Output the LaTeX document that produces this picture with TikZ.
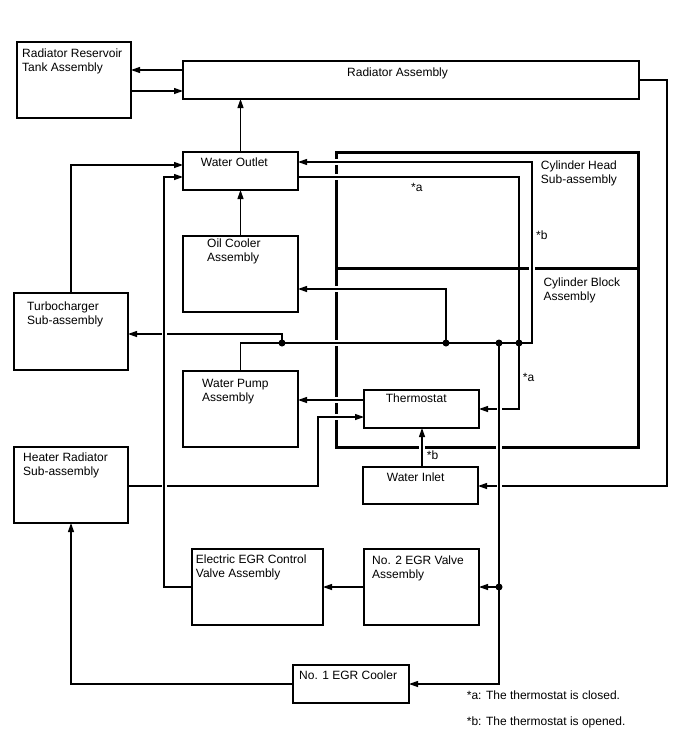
\documentclass[tikz,border=0pt]{standalone}
\usepackage{fontspec}
\setmainfont{Liberation Sans}
\usetikzlibrary{arrows.meta}
\newcommand{\mylines}[1]{\begin{tabular}[t]{@{}l@{}}#1\end{tabular}}
\begin{document}
\begin{tikzpicture}[x=1pt,y=-1pt,
  box/.style={draw, line width=1.3pt, rectangle, inner sep=0pt, outer sep=0pt, anchor=north west},
  region/.style={draw, line width=3pt, rectangle, inner sep=0pt, outer sep=0pt, anchor=north west},
  lbl/.style={anchor=base west, inner sep=0pt, font=\fontsize{12}{14}\selectfont},
  ln/.style={line width=1.2pt},
  arr/.style={ln, -{Triangle[length=9pt,width=6pt]}},
  dot/.style={circle, fill, inner sep=0pt, minimum size=7pt},
  gap/.style={fill=white}]
\useasboundingbox[fill=white] (0,0) rectangle (688,755);

% cylinder regions (thick)
\node[region, minimum width=302pt, minimum height=116pt] (chead) at (336,152) {};
\node[region, minimum width=302pt, minimum height=179pt] (cblock) at (336,268) {};
% gaps in thick lines where pipes cross
\foreach \yy in {162,177,289,343,400,417}
  \fill[gap] (333,\yy-3) rectangle (339,\yy+3);
\fill[gap] (529,265) rectangle (535,271);
\fill[gap] (419,444) rectangle (425,450);
\fill[gap] (496,444) rectangle (502,450);

% boxes
\node[box, minimum width=114pt, minimum height=76pt] (res) at (17,42) {};
\node[box, minimum width=456pt, minimum height=38pt] (rad) at (183,61) {};
\node[box, minimum width=115pt, minimum height=38pt] (wo) at (183,152) {};
\node[box, minimum width=115pt, minimum height=76pt] (oc) at (183,236) {};
\node[box, minimum width=114pt, minimum height=77pt] (turbo) at (14,293) {};
\node[box, minimum width=115pt, minimum height=76pt] (wp) at (183,371) {};
\node[box, minimum width=115pt, minimum height=38pt] (therm) at (364,390) {};
\node[box, minimum width=115pt, minimum height=37pt] (wi) at (363,467) {};
\node[box, minimum width=114pt, minimum height=76pt] (heater) at (14,447) {};
\node[box, minimum width=131pt, minimum height=76pt] (egrv) at (192,549) {};
\node[box, minimum width=115pt, minimum height=76pt] (no2) at (364,549) {};
\node[box, minimum width=116pt, minimum height=38pt] (no1) at (293,665) {};

% junctions
\coordinate (j1) at (282,343);
\coordinate (j2) at (446,343);
\coordinate (j3) at (499,343);
\coordinate (j4) at (519,343);
\coordinate (j5) at (499,587);
\coordinate (jc) at (532,343);
\coordinate (hx) at (318,417);
\coordinate (rx) at (667,486);
\coordinate (ex) at (164,177);

% lines that are broken where others cross them
\draw[arr] (j1) |- (turbo.east |- 0,334);
\draw[arr] (heater.east |- 0,486) -| (hx) -- (therm.west |- hx);
\draw[arr] (j4) |- (therm.east |- 0,409);
\draw[arr] (rad.east |- 0,80) -| (rx) -- (wi.east |- rx);
\fill[gap] (161.5,331.5) rectangle (166.5,336.5);
\fill[gap] (161.5,483.5) rectangle (166.5,488.5);
\fill[gap] (496.5,406.5) rectangle (501.5,411.5);
\fill[gap] (496.5,483.5) rectangle (501.5,488.5);

% other connectors
\draw[arr] (rad.west |- 0,70) -- (res.east |- 0,70);
\draw[arr] (res.east |- 0,91) -- (rad.west |- 0,91);
\draw[arr] (wo.north) -- (wo.north |- rad.south);
\draw[arr] (oc.north) -- (wo.south);
\draw[arr] (turbo.north) |- (wo.west |- 0,165);
\draw[arr] (egrv.west) -| (ex) -- (wo.west |- ex);
\draw[arr] (j3) |- (no1.east);
\draw[arr] (j5) -- (no2.east);
\draw[arr] (wp.north) |- (j1) -- (jc) |- (wo.east |- 0,162);
\draw[arr] (j2) |- (oc.east |- 0,289);
\draw[ln] (wo.east |- 0,177) -| (j4);
\draw[arr] (therm.west |- 0,400) -- (wp.east |- 0,400);
\draw[arr] (wi.north -| 422,0) -- (therm.south -| 422,0);
\draw[arr] (no2.west) -- (egrv.east);
\draw[arr] (no1.west) -| (heater.south);

% dots
\node[dot] (d1) at (j1) {};
\node[dot] (d2) at (j2) {};
\node[dot] (d3) at (j3) {};
\node[dot] (d4) at (j4) {};
\node[dot] (d5) at (j5) {};

% labels
\node[lbl] (tres) at (22,57.7) {\mylines{Radiator Reservoir\\Tank Assembly}};
\node[lbl] (trad) at (347,76) {Radiator Assembly};
\node[lbl] (two) at (200.7,166) {Water Outlet};
\node[lbl] (toc) at (207,247.6) {\mylines{Oil Cooler\\Assembly}};
\node[lbl] (tturbo) at (27,310.3) {\mylines{Turbocharger\\Sub-assembly}};
\node[lbl] (twp) at (202,387.6) {\mylines{Water Pump\\Assembly}};
\node[lbl] (ttherm) at (385.7,402.6) {Thermostat};
\node[lbl] (twi) at (386.7,481) {Water Inlet};
\node[lbl] (theater) at (23,461) {\mylines{Heater Radiator\\Sub-assembly}};
\node[lbl] (tegrv) at (195.7,563.6) {\mylines{Electric EGR Control\\Valve Assembly}};
\node[lbl] (tno2) at (372,564.3) {\mylines{No. 2 EGR Valve\\Assembly}};
\node[lbl] (tno1) at (299,679.6) {No. 1 EGR Cooler};
\node[lbl] (tch) at (540.7,169.3) {\mylines{Cylinder Head\\Sub-assembly}};
\node[lbl] (tcb) at (543.3,286.3) {\mylines{Cylinder Block\\Assembly}};
\node[lbl] (sa1) at (411,191.5) {*a};
\node[lbl] (sb1) at (536,239.3) {*b};
\node[lbl] (sa2) at (522.7,381.7) {*a};
\node[lbl] (sb2) at (426.7,459.3) {*b};
\node[lbl] (fa) at (466.7,699.6) {*a: The thermostat is closed.};
\node[lbl] (fb) at (466.7,725.4) {*b: The thermostat is opened.};
\end{tikzpicture}
\end{document}
